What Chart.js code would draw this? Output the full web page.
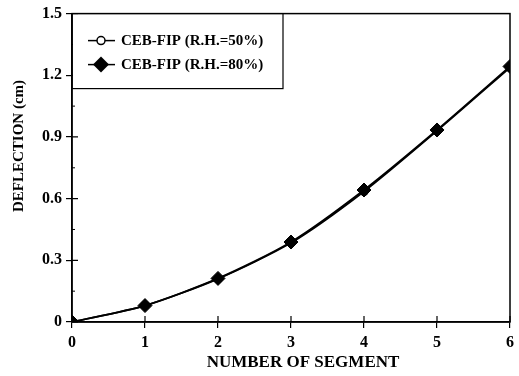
<!DOCTYPE html>
<html>
<head>
<meta charset="utf-8">
<script src="https://cdn.jsdelivr.net/npm/chart.js@4"></script>
<style>
  html, body { margin: 0; padding: 0; background: #fff; }
  #wrap { width: 519px; height: 376px; }
</style>
</head>
<body>
<div id="wrap"><canvas id="chart" width="519" height="376"></canvas></div>
<script>
// ── Data ─────────────────────────────────────
const SEGMENTS = [0, 1, 2, 3, 4, 5, 6];
const RH50 = [0, 0.08, 0.21, 0.385, 0.635, 0.93, 1.238];
const RH80 = [0, 0.08, 0.212, 0.389, 0.642, 0.934, 1.243];
const Y_TICKS = [0, 0.3, 0.6, 0.9, 1.2, 1.5];
const LABELS = ['CEB-FIP (R.H.=50%)', 'CEB-FIP (R.H.=80%)'];
const X_TITLE = 'NUMBER OF SEGMENT';
const Y_TITLE = 'DEFLECTION (cm)';

const FONT = '"Liberation Serif", "DejaVu Serif", serif';

// ── Frame, inner ticks, axis titles, boxed legend ──
const framePlugin = {
  id: 'frame',
  afterDraw(chart) {
    const { ctx, chartArea: a, scales } = chart;
    ctx.save();
    ctx.strokeStyle = '#000';
    ctx.fillStyle = '#000';
    ctx.lineWidth = 1.5;
    ctx.strokeRect(a.left, a.top, a.right - a.left, a.bottom - a.top);

    // inner parts of major ticks
    ctx.lineWidth = 1.2;
    ctx.beginPath();
    SEGMENTS.forEach(v => {
      const x = scales.x.getPixelForValue(v);
      ctx.moveTo(x, a.bottom); ctx.lineTo(x, a.bottom - 6);
    });
    Y_TICKS.forEach(v => {
      const y = scales.y.getPixelForValue(v);
      ctx.moveTo(a.left, y); ctx.lineTo(a.left + 6, y);
    });
    ctx.stroke();
    // minor y ticks
    ctx.lineWidth = 1;
    ctx.beginPath();
    for (let i = 0; i < Y_TICKS.length - 1; i++) {
      const y = scales.y.getPixelForValue((Y_TICKS[i] + Y_TICKS[i + 1]) / 2);
      ctx.moveTo(a.left, y); ctx.lineTo(a.left + 3, y);
    }
    ctx.stroke();

    // axis titles
    ctx.font = 'bold 17px ' + FONT;
    ctx.textAlign = 'center';
    ctx.textBaseline = 'alphabetic';
    ctx.fillText(X_TITLE, 303, 367);
    ctx.save();
    ctx.translate(23, 146);
    ctx.rotate(-Math.PI / 2);
    ctx.font = 'bold 15px ' + FONT;
    ctx.fillText(Y_TITLE, 0, 0);
    ctx.restore();

    // legend box
    const bx = a.left, by = a.top, bw = 211, bh = 75;
    ctx.fillStyle = '#fff';
    ctx.fillRect(bx + 1, by + 1, bw - 1, bh - 1);
    ctx.lineWidth = 1.2;
    ctx.strokeRect(bx, by, bw, bh);
    ctx.font = 'bold 15px ' + FONT;
    ctx.textAlign = 'left';
    ctx.textBaseline = 'middle';
    ctx.fillStyle = '#000';
    chart.data.datasets.forEach((ds, i) => {
      const y = by + 27 + i * 24;
      ctx.lineWidth = 1.5;
      ctx.beginPath();
      ctx.moveTo(bx + 16, y); ctx.lineTo(bx + 43, y);
      ctx.stroke();
      const cx = bx + 29;
      if (ds.pointStyle === 'rectRot') {
        const r = 8;
        ctx.beginPath();
        ctx.moveTo(cx, y - r); ctx.lineTo(cx + r, y);
        ctx.lineTo(cx, y + r); ctx.lineTo(cx - r, y);
        ctx.closePath();
        ctx.fill();
      } else {
        ctx.beginPath();
        ctx.arc(cx, y, 4, 0, Math.PI * 2);
        ctx.fillStyle = '#fff'; ctx.fill();
        ctx.fillStyle = '#000'; ctx.stroke();
      }
      ctx.fillText(ds.label, bx + 49, y + 1);
    });
    ctx.restore();
  }
};

new Chart(document.getElementById('chart'), {
  type: 'line',
  data: {
    datasets: [
      {
        label: LABELS[0],
        data: SEGMENTS.map((s, i) => ({ x: s, y: RH50[i] })),
        borderColor: '#000',
        borderWidth: 1.8,
        pointStyle: 'circle',
        pointRadius: 4,
        pointBackgroundColor: '#fff',
        pointBorderColor: '#000',
        pointBorderWidth: 1.2,
        tension: 0.25,
        order: 2
      },
      {
        label: LABELS[1],
        data: SEGMENTS.map((s, i) => ({ x: s, y: RH80[i] })),
        borderColor: '#000',
        borderWidth: 1.8,
        pointStyle: 'rectRot',
        pointRadius: 7,
        pointBackgroundColor: '#000',
        pointBorderColor: '#000',
        pointBorderWidth: 1,
        tension: 0.25,
        order: 1
      }
    ]
  },
  options: {
    responsive: false,
    animation: false,
    layout: { padding: { top: 11, right: 6, left: 0, bottom: 0 } },
    plugins: { legend: { display: false }, tooltip: { enabled: false } },
    scales: {
      x: {
        type: 'linear',
        min: 0, max: 6,
        afterFit(s) { s.height = 54; },
        afterBuildTicks(s) { s.ticks = SEGMENTS.map(v => ({ value: v })); },
        grid: { drawOnChartArea: false, drawTicks: true, tickLength: 6, color: '#000', lineWidth: 1.2 },
        border: { color: '#000', width: 1.5 },
        ticks: { color: '#000', font: { family: FONT, size: 16, weight: 'bold' }, padding: 5 }
      },
      y: {
        min: 0, max: 1.5,
        afterFit(s) { s.width = 72; },
        afterBuildTicks(s) { s.ticks = Y_TICKS.map(v => ({ value: v })); },
        grid: { drawOnChartArea: false, drawTicks: true, tickLength: 6, color: '#000', lineWidth: 1.2 },
        border: { color: '#000', width: 1.5 },
        ticks: { color: '#000', font: { family: FONT, size: 16, weight: 'bold' }, padding: 4,
                 callback: v => v === 0 ? '0' : v.toFixed(1) }
      }
    }
  },
  plugins: [framePlugin]
});
</script>
</body>
</html>
